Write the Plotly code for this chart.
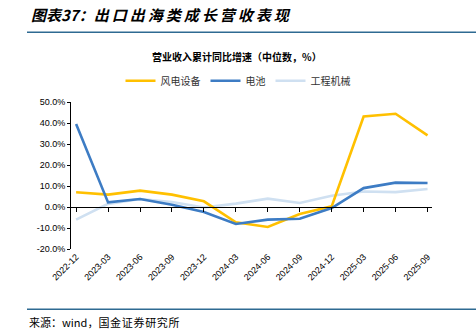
import plotly.graph_objects as go

categories = ["2022-12", "2023-03", "2023-06", "2023-09", "2023-12", "2024-03",
              "2024-06", "2024-09", "2024-12", "2025-03", "2025-06", "2025-09"]
wind_power = [7.0, 5.9, 7.8, 5.9, 2.7, -7.3, -9.5, -3.3, 0.3, 43.1, 44.4, 34.1]
battery = [39.5, 2.2, 3.8, 1.1, -2.4, -8.1, -6.0, -5.6, -0.5, 9.0, 11.6, 11.4]
machinery = [-6.0, 1.5, 3.8, 2.4, -0.2, 1.6, 4.0, 1.9, 5.4, 7.4, 7.1, 8.6]
y_ticks = [-20, -10, 0, 10, 20, 30, 40, 50]
y_tick_labels = [f"{v:.1f}%" for v in y_ticks]

W, H = 476, 330
L, R, T, B = 71, 432, 102.3, 249.3

def px(x):
    return (x - L) / (R - L)

def py(y):
    return (B - y) / (B - T)

cjk = "Noto Sans CJK SC"
lat = "Liberation Sans"
idx = list(range(len(categories)))

fig = go.Figure()
series = {"风电设备": (wind_power, "#FFC000", 1),
          "电池": (battery, "#3D7CC4", 2),
          "工程机械": (machinery, "#CFE0F1", 3)}
# draw order: light first, then orange, then blue on top
for name in ["工程机械", "风电设备", "电池"]:
    vals, col, rank = series[name]
    fig.add_trace(go.Scatter(x=idx, y=vals, mode="lines", name=name,
                             line=dict(color=col, width=2.6), legendrank=rank))

xr = [-0.16, 11.14]
fig.update_layout(
    width=W, height=H,
    margin=dict(l=L, r=W - R, t=T, b=H - B),
    plot_bgcolor="white", paper_bgcolor="white",
    showlegend=True,
    legend=dict(orientation="h", x=px(238), xanchor="center", y=py(81), yanchor="middle",
                font=dict(family=cjk, size=10, color="#333333"),
                itemwidth=30, tracegroupgap=0, bgcolor="rgba(0,0,0,0)"),
    xaxis=dict(range=xr, tickvals=idx, ticktext=[""] * len(idx),
               anchor="free", position=py(207.3),
               showline=True, linecolor="#000000", linewidth=1,
               ticks="outside", ticklen=4, tickcolor="#000000", tickwidth=1,
               showgrid=False, zeroline=False, fixedrange=True),
    xaxis2=dict(range=xr, tickvals=idx, ticktext=categories, overlaying="x",
                matches="x", anchor="y", side="bottom",
                showline=False, ticks="", showgrid=False, zeroline=False,
                tickangle=-45, tickfont=dict(family=lat, size=9, color="#000000")),
    yaxis=dict(range=[-20, 50], tickvals=y_ticks, ticktext=y_tick_labels,
               showline=True, linecolor="#000000", linewidth=1,
               ticks="outside", ticklen=3, tickcolor="#000000",
               showgrid=False, zeroline=False,
               tickfont=dict(family=lat, size=9, color="#000000")),
)
# invisible trace so the label axis renders
fig.add_trace(go.Scatter(x=[idx[0]], y=[None], xaxis="x2", showlegend=False, hoverinfo="skip"))

sp = "\u2009"
title_text = "图表37：" + sp.join("出口出海类成长营收表现")
source_text = "来源：wind，" + "\u200a".join("国金证券研究所")

annotations = [
    dict(text=f"<b><i>{title_text}</i></b>", x=px(29), y=py(15), xref="paper", yref="paper",
         xanchor="left", yanchor="middle", showarrow=False,
         font=dict(family=cjk, size=15, color="#000000")),
    dict(text="<b>营业收入累计同比增速（中位数，%）</b>", x=px(237), y=py(57), xref="paper", yref="paper",
         xanchor="center", yanchor="middle", showarrow=False,
         font=dict(family=cjk, size=10, color="#000000")),
    dict(text=source_text, x=px(27), y=py(322), xref="paper", yref="paper",
         xanchor="left", yanchor="middle", showarrow=False,
         font=dict(family=cjk, size=11, color="#000000")),
]
fig.update_layout(annotations=annotations)

shapes = [
    dict(type="line", xref="paper", yref="paper", x0=px(27), x1=px(476), y0=py(32.5), y1=py(32.5),
         line=dict(color="#2E6A92", width=1.6)),
    dict(type="line", xref="paper", yref="paper", x0=px(27), x1=px(476), y0=py(309.5), y1=py(309.5),
         line=dict(color="#2E6A92", width=1.6)),
]
fig.update_layout(shapes=shapes)

fig.write_html("out.html")
